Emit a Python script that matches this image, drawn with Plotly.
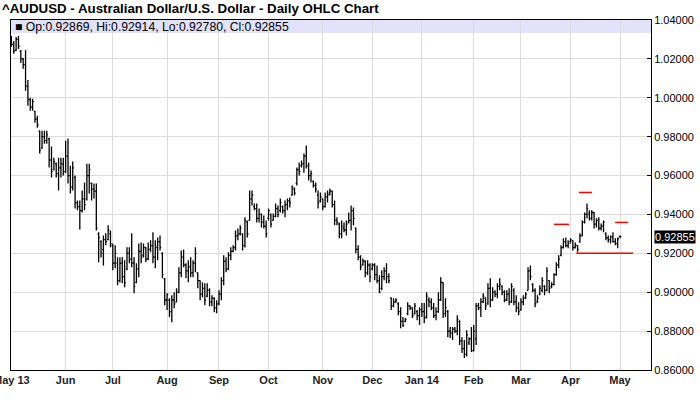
import pandas as pd
import plotly.graph_objects as go

title_text = "^AUDUSD - Australian Dollar/U.S. Dollar - Daily OHLC Chart"
header_text = "\u25a0 Op:0.92869, Hi:0.92914, Lo:0.92780, Cl:0.92855"
last_label = "0.92855"
last_close = 0.92855

holidays = ["2013-12-25", "2014-01-01", "2014-04-18"]

opens = [
    1.0300, 1.0275, 1.0245, 1.0300, 1.0240, 1.0200, 1.0170, 1.0060, 0.9990, 0.9955, 0.9930, 0.9890,
    0.9830, 0.9740, 0.9800, 0.9780, 0.9790, 0.9680, 0.9630, 0.9660, 0.9610, 0.9640, 0.9660,
    0.9620, 0.9700, 0.9600, 0.9540, 0.9590, 0.9460, 0.9440, 0.9420, 0.9480, 0.9480, 0.9600, 0.9560,
    0.9530, 0.9520, 0.9300, 0.9260, 0.9220, 0.9270, 0.9270, 0.9300,
    0.9240, 0.9150, 0.9150, 0.9060, 0.9150, 0.9080, 0.9120, 0.9200, 0.9170, 0.9150, 0.9050, 0.9120,
    0.9210, 0.9190, 0.9230, 0.9170, 0.9220, 0.9240, 0.9180, 0.9230, 0.9260, 0.9200,
    0.9070, 0.8960, 0.8960, 0.8900, 0.8960, 0.8950, 0.9000, 0.9100, 0.9180, 0.9140, 0.9110, 0.9130,
    0.9100, 0.9150, 0.9100, 0.9060, 0.8990, 0.9020, 0.8980, 0.9010, 0.8950, 0.8970,
    0.8920, 0.8940, 0.8990, 0.9060, 0.9160, 0.9120, 0.9190, 0.9210, 0.9230, 0.9290, 0.9300, 0.9300,
    0.9240, 0.9360, 0.9370, 0.9480, 0.9440, 0.9430, 0.9380, 0.9400, 0.9360,
    0.9340, 0.9380, 0.9400, 0.9370, 0.9390, 0.9430, 0.9420, 0.9440, 0.9420, 0.9450, 0.9470, 0.9500,
    0.9530, 0.9560, 0.9630, 0.9650, 0.9660, 0.9700, 0.9650, 0.9600, 0.9570, 0.9550,
    0.9500, 0.9470, 0.9480, 0.9440, 0.9490, 0.9510, 0.9520, 0.9450, 0.9370, 0.9350, 0.9300, 0.9330,
    0.9320, 0.9360, 0.9370, 0.9420, 0.9330, 0.9220, 0.9180, 0.9140, 0.9160,
    0.9100, 0.9140, 0.9120, 0.9140, 0.9090, 0.9060, 0.9020, 0.9080, 0.9110, 0.9080, 0.8970, 0.8930,
    0.8950, 0.8940, 0.8900, 0.8850, 0.8850, 0.8890, 0.8930, 0.8920, 0.8890, 0.8900,
    0.8880, 0.8910, 0.8900, 0.8870, 0.8960, 0.8950, 0.8920, 0.8880, 0.8900, 0.8960, 0.9050, 0.8890,
    0.8900, 0.8800, 0.8790, 0.8810, 0.8800, 0.8850, 0.8750, 0.8710, 0.8680, 0.8740, 0.8760,
    0.8700, 0.8760, 0.8930, 0.8920, 0.8950, 0.8970, 0.8940, 0.9020, 0.8960, 0.9000, 0.8990, 0.9030,
    0.9030, 0.9000, 0.8960, 0.8990, 0.8950, 0.9010, 0.8950,
    0.8920, 0.8910, 0.8950, 0.8970, 0.9010, 0.9110, 0.9040, 0.9010, 0.8950, 0.8990, 0.9010, 0.9030,
    0.9010, 0.9060, 0.9030, 0.9040, 0.9090, 0.9140, 0.9190, 0.9230, 0.9260,
    0.9240, 0.9260, 0.9265, 0.9230, 0.9240, 0.9260, 0.9290, 0.9360, 0.9400, 0.9400, 0.9380, 0.9410,
    0.9350, 0.9370, 0.9330, 0.9340, 0.9300, 0.9280, 0.9270, 0.9285, 0.9260, 0.9250,
    0.92869,
]
highs = [
    1.0318, 1.0292, 1.0313, 1.0318, 1.0246, 1.0205, 1.0246, 1.0092, 1.0000, 0.9995, 0.9933, 0.9908,
    0.9831, 0.9831, 0.9831, 0.9831, 0.9795, 0.9749, 0.9692, 0.9667, 0.9692, 0.9692, 0.9692,
    0.9779, 0.9790, 0.9651, 0.9672, 0.9600, 0.9472, 0.9472, 0.9523, 0.9564, 0.9661, 0.9661, 0.9564,
    0.9559, 0.9559, 0.9308, 0.9267, 0.9292, 0.9303, 0.9344, 0.9318,
    0.9251, 0.9241, 0.9180, 0.9180, 0.9180, 0.9164, 0.9231, 0.9231, 0.9303, 0.9180, 0.9149, 0.9251,
    0.9256, 0.9251, 0.9231, 0.9256, 0.9267, 0.9308, 0.9267, 0.9282, 0.9292, 0.9205,
    0.9072, 0.8995, 0.8969, 0.8985, 0.9000, 0.9021, 0.9128, 0.9215, 0.9220, 0.9149, 0.9164, 0.9180,
    0.9164, 0.9231, 0.9103, 0.9062, 0.9051, 0.9046, 0.9046, 0.9021, 0.8985, 0.8974,
    0.8959, 0.9010, 0.9077, 0.9190, 0.9180, 0.9205, 0.9231, 0.9241, 0.9318, 0.9328, 0.9344, 0.9303,
    0.9385, 0.9369, 0.9523, 0.9523, 0.9456, 0.9456, 0.9431, 0.9405, 0.9395,
    0.9369, 0.9431, 0.9405, 0.9405, 0.9456, 0.9446, 0.9482, 0.9446, 0.9472, 0.9482, 0.9487, 0.9549,
    0.9538, 0.9641, 0.9667, 0.9677, 0.9713, 0.9754, 0.9667, 0.9626, 0.9574, 0.9564,
    0.9523, 0.9513, 0.9482, 0.9513, 0.9523, 0.9533, 0.9523, 0.9472, 0.9385, 0.9359, 0.9369, 0.9359,
    0.9369, 0.9410, 0.9446, 0.9436, 0.9333, 0.9241, 0.9190, 0.9174, 0.9164,
    0.9164, 0.9149, 0.9149, 0.9149, 0.9138, 0.9087, 0.9113, 0.9128, 0.9149, 0.9097, 0.8974, 0.8969,
    0.8969, 0.8949, 0.8923, 0.8872, 0.8867, 0.8949, 0.8933, 0.8923, 0.8944, 0.8908,
    0.8923, 0.8944, 0.8944, 0.9000, 0.8974, 0.8969, 0.8944, 0.8923, 0.9000, 0.9077, 0.9051, 0.8969,
    0.8908, 0.8821, 0.8821, 0.8821, 0.8882, 0.8856, 0.8769, 0.8754, 0.8805, 0.8769, 0.8821,
    0.8831, 0.8944, 0.8944, 0.8969, 0.8995, 0.8974, 0.9046, 0.9072, 0.9026, 0.9010, 0.9046, 0.9072,
    0.9036, 0.9010, 0.9010, 0.9021, 0.9046, 0.9021, 0.8985,
    0.8949, 0.8969, 0.8985, 0.9000, 0.9128, 0.9138, 0.9046, 0.9021, 0.8985, 0.9036, 0.9077, 0.9036,
    0.9128, 0.9062, 0.9051, 0.9097, 0.9154, 0.9190, 0.9241, 0.9277, 0.9282,
    0.9267, 0.9277, 0.9267, 0.9256, 0.9241, 0.9303, 0.9369, 0.9410, 0.9456, 0.9421, 0.9421, 0.9412,
    0.9380, 0.9385, 0.9354, 0.9369, 0.9308, 0.9292, 0.9292, 0.9308, 0.9277, 0.9282,
    0.92914,
]
lows = [
    1.0262, 1.0226, 1.0241, 1.0251, 1.0179, 1.0149, 1.0036, 0.9959, 0.9933, 0.9933, 0.9872, 0.9846,
    0.9713, 0.9738, 0.9764, 0.9764, 0.9641, 0.9590, 0.9626, 0.9590, 0.9523, 0.9590, 0.9600,
    0.9615, 0.9559, 0.9508, 0.9523, 0.9431, 0.9421, 0.9323, 0.9410, 0.9421, 0.9472, 0.9508, 0.9472,
    0.9482, 0.9318, 0.9154, 0.9179, 0.9138, 0.9241, 0.9267, 0.9231,
    0.9113, 0.9123, 0.9036, 0.9050, 0.9046, 0.9026, 0.9113, 0.9149, 0.9128, 0.8995, 0.9046, 0.9077,
    0.9149, 0.9179, 0.9154, 0.9164, 0.9205, 0.9149, 0.9123, 0.9164, 0.9215, 0.9072,
    0.8933, 0.8908, 0.8872, 0.8846, 0.8918, 0.8949, 0.8995, 0.9077, 0.9128, 0.9072, 0.9051, 0.9077,
    0.9077, 0.9103, 0.9021, 0.8959, 0.8974, 0.8933, 0.8974, 0.8928, 0.8928, 0.8897,
    0.8892, 0.8933, 0.8959, 0.9036, 0.9103, 0.9113, 0.9164, 0.9205, 0.9215, 0.9267, 0.9292, 0.9215,
    0.9230, 0.9282, 0.9369, 0.9446, 0.9421, 0.9359, 0.9359, 0.9333, 0.9328,
    0.9282, 0.9369, 0.9333, 0.9369, 0.9385, 0.9385, 0.9410, 0.9405, 0.9385, 0.9421, 0.9436, 0.9497,
    0.9497, 0.9549, 0.9600, 0.9641, 0.9615, 0.9636, 0.9574, 0.9564, 0.9538, 0.9513,
    0.9431, 0.9461, 0.9421, 0.9436, 0.9461, 0.9497, 0.9436, 0.9344, 0.9344, 0.9277, 0.9277, 0.9308,
    0.9292, 0.9354, 0.9318, 0.9344, 0.9200, 0.9164, 0.9113, 0.9138, 0.9077,
    0.9087, 0.9051, 0.9113, 0.9062, 0.9046, 0.8995, 0.9010, 0.9062, 0.9046, 0.9046, 0.8908, 0.8923,
    0.8944, 0.8882, 0.8815, 0.8821, 0.8846, 0.8882, 0.8908, 0.8867, 0.8885, 0.8856,
    0.8831, 0.8872, 0.8841, 0.8865, 0.8923, 0.8908, 0.8867, 0.8856, 0.8895, 0.8955, 0.8867, 0.8872,
    0.8769, 0.8764, 0.8754, 0.8790, 0.8779, 0.8728, 0.8687, 0.8662, 0.8670, 0.8728, 0.8692,
    0.8695, 0.8728, 0.8908, 0.8872, 0.8944, 0.8908, 0.8935, 0.8923, 0.8955, 0.8974, 0.8969, 0.9010,
    0.8985, 0.8949, 0.8955, 0.8933, 0.8945, 0.8933, 0.8897,
    0.8882, 0.8905, 0.8933, 0.8965, 0.9010, 0.9062, 0.9000, 0.8923, 0.8945, 0.8985, 0.9000, 0.8985,
    0.9005, 0.8995, 0.9020, 0.9035, 0.9085, 0.9123, 0.9185, 0.9225, 0.9231,
    0.9226, 0.9251, 0.9215, 0.9225, 0.9205, 0.9255, 0.9288, 0.9354, 0.9379, 0.9369, 0.9369, 0.9328,
    0.9333, 0.9318, 0.9318, 0.9308, 0.9267, 0.9256, 0.9251, 0.9256, 0.9241, 0.9226,
    0.92780,
]
closes = [
    1.0275, 1.0240, 1.0300, 1.0265, 1.0200, 1.0170, 1.0060, 0.9990, 0.9950, 0.9980, 0.9890, 0.9860,
    0.9730, 0.9800, 0.9780, 0.9810, 0.9680, 0.9620, 0.9670, 0.9610, 0.9640, 0.9660, 0.9620,
    0.9700, 0.9600, 0.9540, 0.9640, 0.9460, 0.9440, 0.9420, 0.9480, 0.9450, 0.9600, 0.9630, 0.9530,
    0.9520, 0.9330, 0.9280, 0.9200, 0.9270, 0.9260, 0.9320, 0.9250,
    0.9150, 0.9200, 0.9060, 0.9150, 0.9080, 0.9050, 0.9200, 0.9170, 0.9150, 0.9030, 0.9120, 0.9210,
    0.9180, 0.9230, 0.9170, 0.9220, 0.9240, 0.9180, 0.9230, 0.9260, 0.9230, 0.9090,
    0.8960, 0.8990, 0.8900, 0.8960, 0.8940, 0.9000, 0.9100, 0.9180, 0.9140, 0.9110, 0.9130, 0.9100,
    0.9150, 0.9200, 0.9060, 0.8990, 0.9020, 0.8960, 0.9010, 0.8950, 0.8970, 0.8920,
    0.8940, 0.8990, 0.9060, 0.9160, 0.9120, 0.9190, 0.9210, 0.9230, 0.9290, 0.9300, 0.9330, 0.9240,
    0.9370, 0.9300, 0.9480, 0.9500, 0.9430, 0.9380, 0.9400, 0.9360, 0.9340,
    0.9300, 0.9420, 0.9350, 0.9390, 0.9430, 0.9400, 0.9460, 0.9420, 0.9450, 0.9470, 0.9460, 0.9540,
    0.9510, 0.9630, 0.9620, 0.9660, 0.9700, 0.9650, 0.9600, 0.9610, 0.9550, 0.9530,
    0.9460, 0.9490, 0.9440, 0.9490, 0.9500, 0.9520, 0.9450, 0.9370, 0.9360, 0.9300, 0.9340, 0.9320,
    0.9350, 0.9370, 0.9420, 0.9380, 0.9220, 0.9180, 0.9130, 0.9160, 0.9100,
    0.9140, 0.9080, 0.9140, 0.9090, 0.9060, 0.9000, 0.9080, 0.9110, 0.9080, 0.9060, 0.8930, 0.8950,
    0.8960, 0.8900, 0.8850, 0.8830, 0.8860, 0.8930, 0.8920, 0.8880, 0.8930, 0.8880,
    0.8910, 0.8900, 0.8870, 0.8980, 0.8950, 0.8920, 0.8880, 0.8900, 0.8960, 0.9050, 0.8890, 0.8920,
    0.8800, 0.8790, 0.8810, 0.8800, 0.8860, 0.8750, 0.8710, 0.8680, 0.8780, 0.8760, 0.8700,
    0.8800, 0.8930, 0.8920, 0.8950, 0.8980, 0.8930, 0.9020, 0.8960, 0.9000, 0.8990, 0.9030, 0.9040,
    0.9000, 0.8960, 0.8990, 0.8950, 0.9030, 0.8950, 0.8920,
    0.8900, 0.8950, 0.8970, 0.8990, 0.9110, 0.9080, 0.9010, 0.8940, 0.8970, 0.9020, 0.9060, 0.9010,
    0.9110, 0.9020, 0.9040, 0.9090, 0.9140, 0.9170, 0.9230, 0.9260, 0.9240,
    0.9250, 0.9270, 0.9230, 0.9245, 0.9220, 0.9290, 0.9360, 0.9400, 0.9430, 0.9380, 0.9410, 0.9350,
    0.9370, 0.9330, 0.9340, 0.9360, 0.9280, 0.9270, 0.9285, 0.9260, 0.9250, 0.9275,
    0.92855,
]

month_ticks = ["2013-05-01", "2013-06-03", "2013-07-01", "2013-08-01", "2013-09-02", "2013-10-01",
               "2013-11-01", "2013-12-02", "2014-01-02", "2014-02-03", "2014-03-03", "2014-04-01",
               "2014-05-01"]
month_labels = ["May 13", "Jun", "Jul", "Aug", "Sep", "Oct", "Nov", "Dec", "Jan 14", "Feb", "Mar",
                "Apr", "May"]

# head & shoulders annotation lines: (start, end, price)
pattern_lines = [
    ("2014-03-21 00:00", "2014-03-31 10:00", 0.9349),
    ("2014-04-04 14:00", "2014-04-14 02:00", 0.9513),
    ("2014-04-28 22:00", "2014-05-06 10:00", 0.9359),
    ("2014-04-03 10:00", "2014-05-08 12:00", 0.9200),
]

dates = [d for d in pd.bdate_range("2013-05-01", "2014-05-01")
         if d.strftime("%Y-%m-%d") not in holidays]
n = len(dates)
assert len(opens) == n and len(highs) == n and len(lows) == n and len(closes) == n, (
    n, len(opens), len(highs), len(lows), len(closes))

fig = go.Figure()
fig.add_trace(go.Ohlc(
    x=dates, open=opens, high=highs, low=lows, close=closes,
    increasing=dict(line=dict(color="black", width=1.3)),
    decreasing=dict(line=dict(color="black", width=1.3)),
    tickwidth=0.5, hoverinfo="skip", showlegend=False,
))

shapes = [dict(type="rect", xref="paper", yref="paper", x0=0, x1=1, y0=1 - 13 / 350, y1=1,
               fillcolor="#e2e2fa", line=dict(width=0), layer="below")]
for x0, x1, yv in pattern_lines:
    shapes.append(dict(type="line", xref="x", yref="y", x0=x0, x1=x1, y0=yv, y1=yv,
                       line=dict(color="#ff0000", width=1.5), layer="above"))

GRID = "#dcdcdc"
fig.update_layout(
    width=700, height=411,
    margin=dict(l=11, r=49, t=20, b=41, autoexpand=False),
    paper_bgcolor="white", plot_bgcolor="white",
    font=dict(family="Liberation Sans, Arial, sans-serif", color="black", size=11),
    title=dict(text=title_text, xref="container", yref="container", x=2 / 700,
               y=1 - 8.5 / 411, xanchor="left", yanchor="middle",
               font=dict(size=13.3, weight="bold", color="black",
                         family="Liberation Sans, Arial, sans-serif")),
    shapes=shapes,
    showlegend=False,
    xaxis=dict(
        type="date", automargin=False,
        range=["2013-04-30 20:00", "2014-05-20 03:00"],
        rangebreaks=[dict(bounds=["sat", "mon"]), dict(values=holidays)],
        rangeslider=dict(visible=False),
        tickmode="array", tickvals=month_ticks, ticktext=month_labels,
        ticklabeloverflow="allow",
        showgrid=True, gridcolor=GRID, gridwidth=1,
        showline=True, linecolor="black", linewidth=1, mirror=True,
        ticks="", zeroline=False,
        tickfont=dict(size=11, weight="bold", color="#222222"),
    ),
    yaxis=dict(
        side="right", automargin=False,
        range=[0.86, 1.04], tick0=0.86, dtick=0.02, tickformat=".5f",
        ticklabeloverflow="allow",
        showgrid=True, gridcolor=GRID, gridwidth=1,
        showline=True, linecolor="black", linewidth=1, mirror=True,
        ticks="inside", ticklen=4, tickcolor="black", zeroline=False,
        tickfont=dict(size=11, color="black"),
    ),
    annotations=[
        dict(text=header_text, xref="paper", yref="paper", x=2 / 640, y=1 - 6.5 / 350,
             xanchor="left", yanchor="middle", showarrow=False,
             font=dict(size=12.2, color="black")),
        dict(text=last_label, xref="paper", yref="y", x=1, y=last_close, xanchor="left",
             yanchor="middle", xshift=3, showarrow=False, bgcolor="black", borderpad=0,
             font=dict(size=11, color="white")),
    ],
)

fig.write_html("out.html", config={"displayModeBar": False},
               post_script="document.body.style.margin='0';")
